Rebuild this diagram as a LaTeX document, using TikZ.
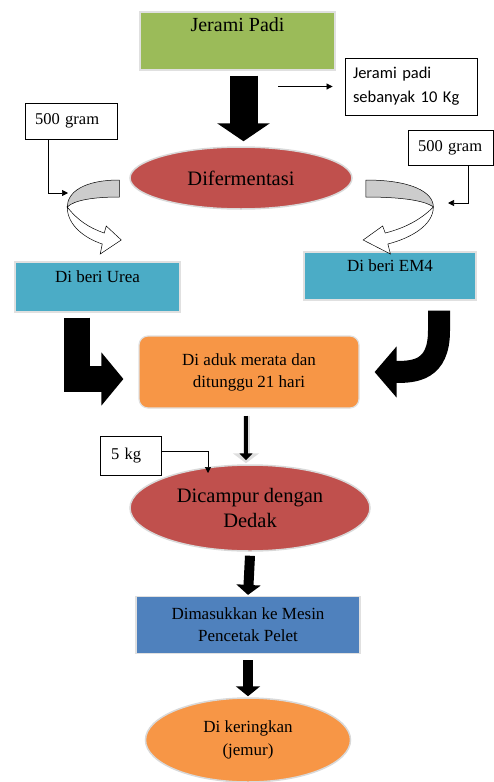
\documentclass[tikz,border=0pt]{standalone}
\usepackage{fontspec}
\setmainfont{Liberation Serif}
\newfontfamily\notefont{Carlito}
\usepackage{tikz}
\usetikzlibrary{arrows.meta,shapes.geometric}
\definecolor{padigreen}{HTML}{9BBB59}
\definecolor{fermred}{HTML}{C0504D}
\definecolor{ureacyan}{HTML}{4BACC6}
\definecolor{adukorange}{HTML}{F79646}
\definecolor{mesinblue}{HTML}{4F81BD}
\tikzset{
  stepbox/.style={rectangle,draw=black!12,line width=1.2pt,inner sep=0pt,align=center},
  ovalbox/.style={ellipse,draw=black!15,line width=1.5pt,inner sep=0pt,align=center},
  notebox/.style={rectangle,draw=black,line width=0.8pt,inner ysep=0pt,align=left},
  thinarrow/.style={-{Triangle[length=6pt,width=6pt]},line width=0.7pt},
  pics/curl/.style={code={
    \filldraw[fill=gray!40,draw=black,line width=0.5pt](-10,2).. controls (-45,2) and (-62,14) ..(-62,29)
      .. controls (-55,22) and (-35,19) ..(-10,19)--cycle;
    \filldraw[fill=white,draw=black,line width=0.5pt](-62,29).. controls (-62,47) and (-45,60) ..(-27,66)
      --(-29,76)--(-8,62)--(-23,48)--(-25,55).. controls (-40,50) and (-52,42) ..(-62,29)--cycle;
  }}
}
\begin{document}
\begin{tikzpicture}[x=1pt,y=-1pt,line join=miter]
\useasboundingbox(0,0)rectangle(493,782);
% boxes and ovals
\node[stepbox,fill=padigreen,minimum width=195pt,text height=19pt,text depth=39pt,font=\fontsize{20}{22}\selectfont](jerami)at(237.5,41){Jerami Padi};
\node[ovalbox,fill=fermred,minimum width=222pt,minimum height=62pt,font=\fontsize{20.5}{22}\selectfont](ferment)at(241,178){Difermentasi};
\node[stepbox,fill=ureacyan,minimum width=165pt,text height=20pt,text depth=30pt,font=\fontsize{17}{20}\selectfont](urea)at(97.5,287){Di beri Urea};
\node[stepbox,fill=ureacyan,minimum width=172pt,text height=19pt,text depth=29pt,font=\fontsize{17}{20}\selectfont](em4)at(390,276){Di beri EM4};
\node[stepbox,fill=adukorange,rounded corners=9pt,minimum width=220pt,minimum height=72pt,font=\fontsize{17}{22}\selectfont](aduk)at(249,372){Di aduk merata dan\\ditunggu 21 hari};
\node[ovalbox,fill=fermred,minimum width=240pt,minimum height=86pt,font=\fontsize{20.5}{25}\selectfont](campur)at(250,508){Dicampur dengan\\Dedak};
\node[stepbox,fill=mesinblue,minimum width=224pt,minimum height=57pt,font=\fontsize{17}{22}\selectfont](mesin)at(248,625){Dimasukkan ke Mesin\\Pencetak Pelet};
\node[ovalbox,fill=adukorange,minimum width=205pt,minimum height=84pt,font=\fontsize{17}{23}\selectfont](kering)at(248,740){Di keringkan\\(jemur)};
% notes
\node[notebox,text width=116pt,inner xsep=8pt,minimum height=57pt,font=\notefont\fontsize{16.5}{24}\selectfont](jumlah)at(411,86.5){Jerami padi\\sebanyak 10 Kg};
\node[notebox,text width=72pt,inner xsep=10pt,minimum height=36pt,font=\fontsize{16.5}{18}\selectfont](ureagram)at(71,121){500 gram};
\node[notebox,text width=65pt,inner xsep=10pt,minimum height=35pt,font=\fontsize{16.5}{18}\selectfont](emgram)at(450.5,147.5){500 gram};
\node[notebox,text width=39pt,inner xsep=11pt,minimum height=39pt,font=\fontsize{16.5}{18}\selectfont](dedakkg)at(130.5,455.5){5 kg};
% thin connectors
\coordinate(jumlahtail)at(278,86.5);
\coordinate(ureatip)at(68,193);
\coordinate(emtip)at(448,203);
\coordinate(kgtip)at(208,473);
\draw[thinarrow,shorten >=12pt](jumlahtail)--(jumlah.west);
\draw[thinarrow]([xshift=-23pt]ureagram.south)|-(ureatip);
\draw[thinarrow]([xshift=17.5pt]emgram.south)|-(emtip);
\draw[thinarrow]([yshift=4pt]dedakkg.east)-|(kgtip);
% curled arrows
\pic at(ferment.west){curl};
\pic[xscale=-1.3] at(ferment.east){curl};
% block arrows
\draw[line width=28pt,-{Triangle[length=18pt,width=52pt]}]([xshift=6pt,yshift=-5pt]jerami.south)--([xshift=6pt,yshift=5pt]jerami.south|-ferment.north);
\draw[line width=26pt,-{Triangle[length=22pt,width=52pt]}]([shift={(-21pt,-5pt)}]urea.south)|-([shift={(-15pt,-7pt)}]aduk.west);
\draw[line width=22pt,-{Triangle[length=22pt,width=50pt]}]([shift={(49pt,-10pt)}]em4.south)--++(0,20).. controls +(0,40) and +(40,0) ..([xshift=15pt]aduk.east);
\draw[gray!25,line width=7pt,-{Triangle[length=10pt,width=26pt]}]([shift={(-3pt,-7pt)}]aduk.south)--([shift={(-3pt,1pt)}]aduk.south|-campur.north);
\draw[line width=4pt,-{Triangle[length=7pt,width=13pt]}]([shift={(-3pt,-7pt)}]aduk.south)--([shift={(-3pt,4pt)}]aduk.south|-campur.north);
\draw[line width=10pt,-{Triangle[length=10pt,width=24pt]}]([yshift=-4pt]campur.south)--([yshift=1pt]mesin.north);
\draw[line width=10pt,-{Triangle[length=10pt,width=24pt]}]([yshift=-6pt]mesin.south)--([yshift=1pt]kering.north);
\end{tikzpicture}
\end{document}
